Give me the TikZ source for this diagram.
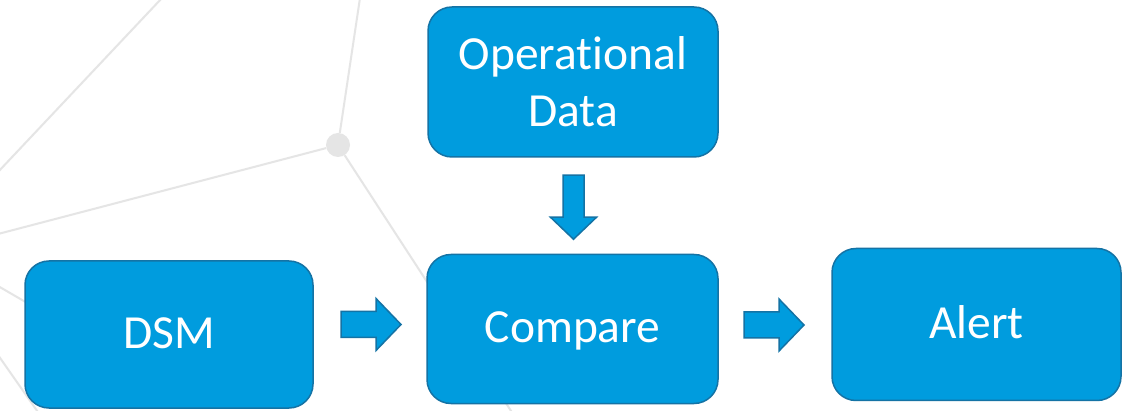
\documentclass[tikz,border=0pt]{standalone}
\usepackage{fontspec}
\setmainfont[Ligatures=CommonOff]{Carlito}
\usetikzlibrary{calc}

\definecolor{boxfill}{RGB}{0,156,222}
\definecolor{boxline}{RGB}{20,115,165}
\definecolor{webline}{RGB}{229,229,229}

\tikzset{
  stagebox/.style={draw=boxline, line width=1.5pt, fill=boxfill, rounded corners=24pt,
    inner sep=0pt, text=white, align=center,
    font=\fontsize{47.5}{57}\selectfont},
  oneline/.style={text height=28pt, text depth=0pt},
  blockarrow/.style={draw=boxline, line width=1.5pt, fill=boxfill, line join=miter},
  web/.style={draw=webline, line width=2pt},
}

\begin{document}
\begin{tikzpicture}[x=1pt,y=-1pt]
  \useasboundingbox (0,0) rectangle (1127,411);
  \fill[white] (0,0) rectangle (1127,411);

  % faint network in the background
  \begin{scope}
    \clip (0,0) rectangle (1127,411);
    \node[circle, fill=webline, minimum size=24pt, inner sep=0pt] (hub) at (338,145) {};
    \coordinate (w1) at (360,-2);
    \coordinate (w2) at (-2,234);
    \coordinate (w3) at (513,414);
    \coordinate (w4a) at (162,-2);
    \coordinate (w4b) at (-2,172);
    \coordinate (w5a) at (-2,286);
    \coordinate (w5b) at (60,322);
    \coordinate (w6a) at (-2,355);
    \coordinate (w6b) at (40,415);
    \draw[web] (hub) -- (w1);
    \draw[web] (hub) -- (w2);
    \draw[web] (hub) -- (w3);
    \draw[web] (w4a) -- (w4b);
    \draw[web] (w5a) -- (w5b);
    \draw[web] (w6a) -- (w6b);
  \end{scope}

  % process stages
  \node[stagebox, minimum width=290pt, minimum height=150pt] (opd) at (573,82) {Operational\\Data};
  \node[stagebox, oneline, minimum width=288pt, minimum height=147pt] (dsm) at (169,334.5) {DSM};
  \node[stagebox, oneline, minimum width=291pt, minimum height=149pt] (cmp) at (572.5,329) {Compare};
  \node[stagebox, oneline, minimum width=289pt, minimum height=152pt] (alert) at (976.5,324.5) {Alert};

  % block arrows between the stages
  \coordinate (m1) at ($(dsm.east)!0.5!(cmp.west)+(1,-7.25)$);
  \coordinate (m2) at ($(cmp.east)!0.5!(alert.west)+(-1,-1.75)$);
  \coordinate (m3) at ($(opd.south)!0.5!(cmp.north)+(0.75,1.5)$);

  \draw[blockarrow] (m1) ++(-30,-13) -- ++(35,0) -- ++(0,-13) -- ++(25,26)
    -- ++(-25,26) -- ++(0,-13) -- ++(-35,0) -- cycle;
  \draw[blockarrow] (m2) ++(-30,-13) -- ++(35,0) -- ++(0,-13) -- ++(25,26)
    -- ++(-25,26) -- ++(0,-13) -- ++(-35,0) -- cycle;
  \draw[blockarrow] (m3) ++(-10.5,-32) -- ++(21,0) -- ++(0,42) -- ++(12.5,0)
    -- ++(-23,22) -- ++(-23,-22) -- ++(12.5,0) -- cycle;
\end{tikzpicture}
\end{document}
